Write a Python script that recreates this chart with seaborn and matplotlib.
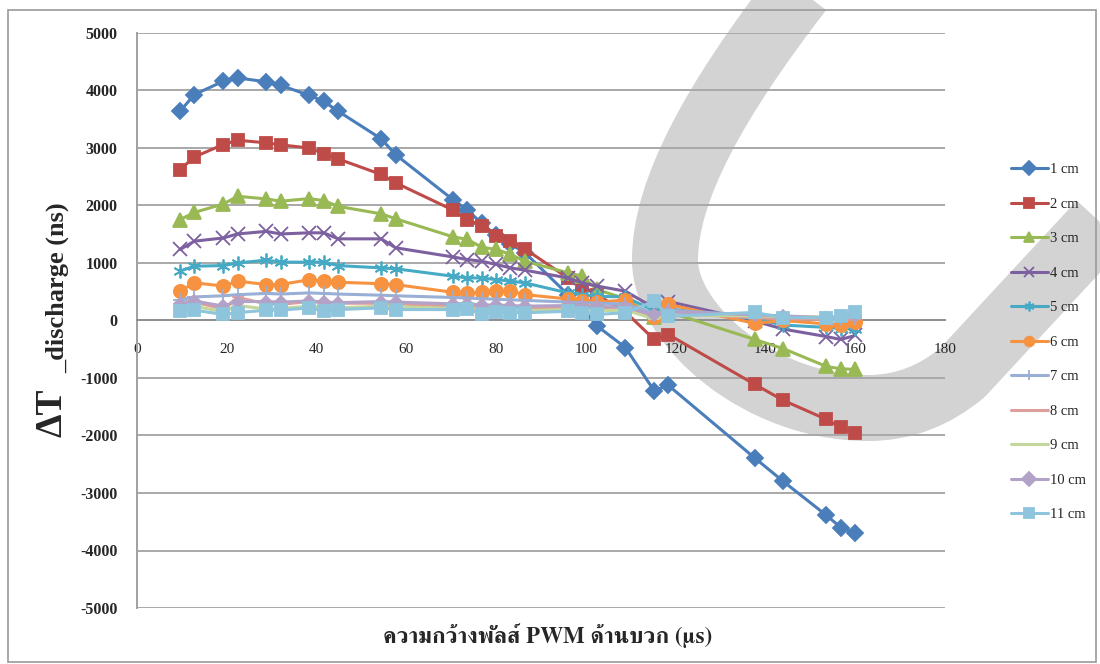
import matplotlib
matplotlib.use("Agg")
import matplotlib.pyplot as plt
import seaborn as sns
import numpy as np
from matplotlib.path import Path
from matplotlib.patches import PathPatch, Rectangle
from matplotlib import font_manager
from matplotlib.ft2font import FT2Font

# ---------------- data ----------------
pwm_us = [9.6, 12.8, 19.2, 22.4, 28.8, 32.0, 38.4, 41.6, 44.8, 54.4, 57.6,
          70.4, 73.6, 76.8, 80.0, 83.2, 86.4, 96.0, 99.2, 102.4, 108.8,
          115.2, 118.4, 137.6, 144.0, 153.6, 156.8, 160.0]

cm1 = [3640, 3930, 4160, 4220, 4150, 4090, 3915, 3810, 3640, 3160, 2885,
       2100, 1920, 1690, 1480, 1330, 1180, 450, 230, -90, -470,
       -1220, -1130, -2390, -2800, -3390, -3600, -3700]
cm2 = [2625, 2845, 3060, 3135, 3090, 3055, 3000, 2900, 2810, 2540, 2395,
       1920, 1755, 1640, 1465, 1380, 1245, 740, 600, 450, 150,
       -330, -245, -1110, -1390, -1720, -1860, -1950]
cm3 = [1755, 1880, 2025, 2160, 2115, 2075, 2120, 2085, 1985, 1855, 1770,
       1455, 1410, 1275, 1235, 1150, 1030, 830, 770, 540, 380,
       60, 150, -330, -490, -800, -840, -850]
cm4 = [1235, 1380, 1435, 1505, 1550, 1505, 1525, 1525, 1420, 1420, 1265,
       1105, 1060, 1030, 975, 915, 875, 740, 655, 600, 510,
       220, 330, -10, -150, -280, -330, -260]
cm5 = [860, 945, 955, 1000, 1050, 1015, 1015, 1015, 955, 915, 900,
       770, 740, 740, 710, 685, 655, 480, 450, 420, 410,
       170, 200, 30, -80, -120, -140, -150]
cm6 = [510, 655, 600, 685, 625, 625, 710, 685, 665, 640, 625,
       490, 480, 490, 510, 510, 450, 375, 335, 320, 355,
       60, 280, -50, 0, -60, -70, -30]
cm7 = [360, 410, 430, 450, 470, 460, 480, 470, 460, 440, 430,
       400, 390, 380, 370, 360, 350, 320, 310, 300, 290,
       120, 180, 90, 60, 40, 30, 50]
cm8 = [300, 320, 200, 400, 290, 280, 330, 310, 300, 300, 290,
       250, 260, 230, 240, 230, 220, 230, 220, 200, 200,
       60, 130, 50, 30, 20, 10, 30]
cm9 = [220, 250, 150, 260, 200, 210, 250, 230, 220, 250, 240,
       210, 220, 180, 190, 180, 170, 190, 180, 170, 180,
       30, 100, 80, 70, 60, 70, 90]
cm10 = [280, 340, 250, 330, 330, 320, 340, 320, 310, 330, 320,
        290, 290, 270, 270, 260, 250, 260, 250, 240, 240,
        90, 150, 100, 80, 50, 60, 80]
cm11 = [160, 180, 105, 135, 180, 180, 220, 160, 190, 220, 190,
        190, 205, 105, 145, 135, 135, 160, 135, 105, 135,
        335, 75, 140, 50, 50, 70, 155]

series_labels = ["1 cm", "2 cm", "3 cm", "4 cm", "5 cm", "6 cm",
                 "7 cm", "8 cm", "9 cm", "10 cm", "11 cm"]
series_values = [cm1, cm2, cm3, cm4, cm5, cm6, cm7, cm8, cm9, cm10, cm11]

x_ticks = [0, 20, 40, 60, 80, 100, 120, 140, 160, 180]
y_ticks = [5000, 4000, 3000, 2000, 1000, 0, -1000, -2000, -3000, -4000, -5000]

x_label = "ความกว้างพัลส์ PWM ด้านบวก (μs)"
y_label_big = "ΔT"
y_label_small = "_discharge (ns)"

# ---------------- styles ----------------
colors = ["#4A7EBB", "#BE4B48", "#98B954", "#7D60A0", "#46AAC5", "#F69240",
          "#9AAFD6", "#DE9E9C", "#C3D69B", "#B3A2C7", "#8EC4DC"]
markers = ["D", "s", "^", "x", (6, 2, 0), "o", "+", "_", "_", "D", "s"]
msizes = [8.5, 9, 9.5, 10, 10, 9.5, 10, 9, 9, 6, 9]

# find a font with Thai glyphs
def find_thai_font():
    best = None
    for fe in font_manager.fontManager.ttflist:
        try:
            f = FT2Font(fe.fname)
            cmap = f.get_charmap()
        except Exception:
            continue
        if 0x0E01 in cmap and 0x0E27 in cmap:
            score = 0
            if "bold" in str(fe.weight).lower() or (isinstance(fe.weight, int) and fe.weight >= 600):
                score += 2
            if "serif" in fe.name.lower() and "sans" not in fe.name.lower():
                score += 1
            if best is None or score > best[0]:
                best = (score, fe.name)
    return best[1] if best else None

thai_family = find_thai_font()

sns.set_theme(style="white")
plt.rcParams["font.family"] = ["Liberation Serif", "DejaVu Sans"]

W, H = 1100, 664
fig = plt.figure(figsize=(W / 100, H / 100), dpi=100)
fig.patch.set_facecolor("white")

def px(x, y):
    return (x / W, 1 - y / H)

# decorative gray swoosh behind the chart
verts = [px(800, -10), px(715, 100), px(665, 190), px(665, 260),
         px(665, 325), px(760, 408), px(868, 408),
         px(905, 408), px(935, 395), px(962, 373),
         px(1215, 100)]
codes = [Path.MOVETO, Path.CURVE4, Path.CURVE4, Path.CURVE4,
         Path.CURVE4, Path.CURVE4, Path.CURVE4,
         Path.CURVE4, Path.CURVE4, Path.CURVE4,
         Path.LINETO]
swoosh = PathPatch(Path(verts, codes), transform=fig.transFigure, fill=False,
                   edgecolor="#d3d3d3", linewidth=66 * 0.72, capstyle="butt",
                   joinstyle="round", zorder=-5)
fig.add_artist(swoosh)

# outer chart border
fig.add_artist(Rectangle(px(8, 662), (1096 - 8) / W, (662 - 10) / H,
                         transform=fig.transFigure, fill=False,
                         edgecolor="#9a9a9a", linewidth=1.2, zorder=-4))

ax = fig.add_axes([137 / W, 1 - 608 / H, (945 - 137) / W, (608 - 33) / H])
ax.set_facecolor("none")

for lab, vals, c, m, ms in zip(series_labels, series_values, colors, markers, msizes):
    sns.lineplot(x=pwm_us, y=vals, ax=ax, color=c, marker=m, markersize=ms,
                 markeredgecolor=c, markerfacecolor=c, markeredgewidth=1.3,
                 linewidth=2.2, label=lab, zorder=3)

ax.set_xlim(0, 180)
ax.set_ylim(-5000, 5000)
ax.set_xticks(x_ticks)
ax.set_yticks(y_ticks)
ax.set_xticklabels([str(v) for v in x_ticks], fontsize=12.5, family=["Liberation Serif"])
ax.set_yticklabels([str(v) for v in y_ticks], fontsize=11.5, fontweight="bold",
                   family=["Liberation Serif"])
ax.tick_params(axis="x", length=0, pad=16)
ax.tick_params(axis="y", length=0, pad=14)
ax.yaxis.grid(True, color="#a8a8a8", linewidth=1.4, zorder=0)
ax.xaxis.grid(False)
ax.set_axisbelow(True)
for s in ["top", "right"]:
    ax.spines[s].set_visible(False)
ax.spines["left"].set_color("#a0a0a0")
ax.spines["left"].set_linewidth(1.4)
ax.spines["bottom"].set_position(("data", 0))
ax.spines["bottom"].set_color("#909090")
ax.spines["bottom"].set_linewidth(1.4)
ax.set_xlabel("")
ax.set_ylabel("")

# axis titles
xl_family = [thai_family, "DejaVu Sans"] if thai_family else ["DejaVu Sans"]
fig.text(548 / W, 1 - 636 / H, x_label, ha="center", va="center",
         fontsize=16.5, fontweight="bold", family=xl_family)
fig.text(52 / W, 1 - 413 / H, y_label_big, rotation=90, ha="center", va="center",
         fontsize=27, fontweight="bold", family=["Liberation Serif"])
fig.text(58 / W, 1 - 288 / H, y_label_small, rotation=90, ha="center", va="center",
         fontsize=19, fontweight="bold", family=["Liberation Serif"])

# legend
leg = ax.legend(loc="upper left", bbox_to_anchor=(998 / W, 1 - 150 / H),
                bbox_transform=fig.transFigure, frameon=False,
                handlelength=2.5, handletextpad=0.15, labelspacing=1.46,
                numpoints=1, prop={"family": "Liberation Serif", "size": 10.5})
for h in leg.legend_handles:
    h.set_markersize(7)

fig.savefig("out.png", dpi=100)
